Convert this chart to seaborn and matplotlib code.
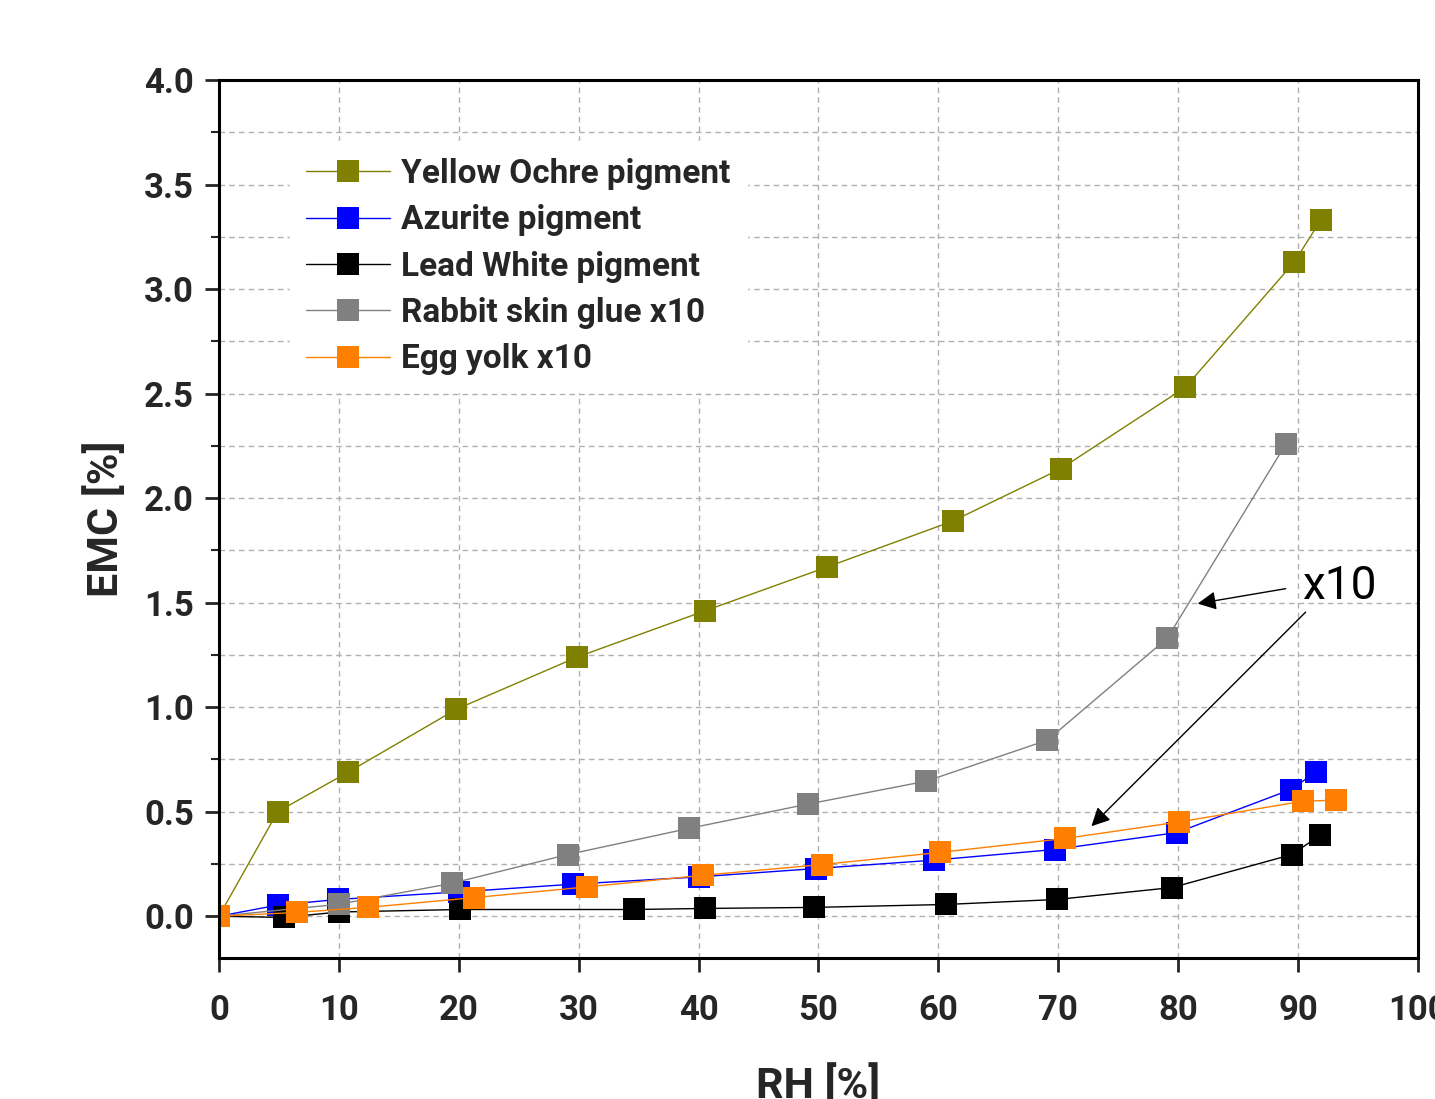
import matplotlib
matplotlib.use("Agg")
import matplotlib.pyplot as plt
import seaborn as sns
import numpy as np
from matplotlib.ticker import MultipleLocator, FormatStrFormatter

# ---- data ----
ochre_rh = [0, 4.9, 10.8, 19.8, 29.9, 40.5, 50.7, 61.2, 70.2, 80.6, 89.7, 91.9]
ochre_emc = [0, 0.50, 0.69, 0.99, 1.24, 1.46, 1.67, 1.89, 2.14, 2.53, 3.13, 3.33]

azurite_rh = [0, 4.9, 9.9, 20.0, 29.5, 40.0, 49.8, 59.6, 69.7, 79.9, 89.4, 91.5]
azurite_emc = [0, 0.053, 0.08, 0.116, 0.153, 0.188, 0.228, 0.268, 0.319, 0.40, 0.606, 0.69]

lead_rh = [0, 5.4, 10.0, 20.1, 34.6, 40.5, 49.6, 60.6, 69.9, 79.5, 89.5, 91.8]
lead_emc = [0, -0.006, 0.02, 0.032, 0.032, 0.037, 0.042, 0.056, 0.08, 0.137, 0.295, 0.386]

glue_rh = [0, 10.0, 19.4, 29.1, 39.2, 49.1, 59.0, 69.1, 79.1, 89.0]
glue_emc = [0, 0.057, 0.157, 0.295, 0.42, 0.536, 0.646, 0.842, 1.33, 2.26]

egg_rh = [0, 6.5, 12.4, 21.3, 30.7, 40.4, 50.3, 60.1, 70.6, 80.1, 90.4, 93.2]
egg_emc = [0, 0.018, 0.042, 0.089, 0.14, 0.196, 0.247, 0.305, 0.372, 0.451, 0.55, 0.555]

series = [
    ("Yellow Ochre pigment", ochre_rh, ochre_emc, "#808000"),
    ("Azurite pigment", azurite_rh, azurite_emc, "#0000FF"),
    ("Lead White pigment", lead_rh, lead_emc, "#000000"),
    ("Rabbit skin glue x10", glue_rh, glue_emc, "#808080"),
    ("Egg yolk x10", egg_rh, egg_emc, "#FF8000"),
]

sns.set_theme(style="ticks")
plt.rcParams['font.family'] = ['Roboto', 'DejaVu Sans']

fig = plt.figure(figsize=(14.35, 10.99), dpi=100)
ax = fig.add_axes([0.1526, 0.1283, 0.8355, 0.7989])

for name, xs, ys, col in series:
    sns.lineplot(x=xs, y=ys, ax=ax, color=col, marker="s", markersize=16,
                 markeredgewidth=0, linewidth=1, label=name, sort=False,
                 estimator=None)

ax.set_xlim(0, 100)
ax.set_ylim(-0.2, 4.0)
ax.xaxis.set_major_locator(MultipleLocator(10))
ax.yaxis.set_major_locator(MultipleLocator(0.5))
ax.yaxis.set_minor_locator(MultipleLocator(0.25))
ax.yaxis.set_major_formatter(FormatStrFormatter("%.1f"))

ax.grid(True, which="major", axis="both", linestyle=(0, (4, 3)), color="#b0b0b0", linewidth=1)
ax.grid(True, which="minor", axis="y", linestyle=(0, (4, 3)), color="#b0b0b0", linewidth=1)
ax.set_axisbelow(True)

for sp in ax.spines.values():
    sp.set_linewidth(2.2)
    sp.set_color("black")

ax.tick_params(axis="both", which="major", direction="out", length=10, width=2,
               labelsize=25)
ax.tick_params(axis="x", which="major", pad=16)
ax.tick_params(axis="y", which="major", pad=8)
ax.tick_params(axis="y", which="minor", direction="out", length=6, width=1.5)
for lab in ax.get_xticklabels() + ax.get_yticklabels():
    lab.set_fontweight("bold")

ax.set_xlabel("RH [%]", fontsize=31, fontweight="bold", labelpad=27)
ax.set_ylabel("EMC [%]", fontsize=31, fontweight="bold", labelpad=12)

leg = ax.legend(loc="upper left", bbox_to_anchor=(0.045, 0.949), fontsize=24,
                frameon=True, facecolor="white", edgecolor="white", framealpha=1,
                handlelength=2.5, handletextpad=0.35, labelspacing=0.43,
                borderpad=0.5, fancybox=False)
for t in leg.get_texts():
    t.set_fontweight("bold")

# annotation: x10 with arrows
ax.text(90.3, 1.58, "x10", fontsize=33, ha="left", va="center", color="black")
ax.annotate("", xy=(81.4, 1.493), xytext=(89.2, 1.569),
            arrowprops=dict(arrowstyle="-|>", color="black", lw=1, mutation_scale=28))
ax.annotate("", xy=(72.6, 0.421), xytext=(90.8, 1.464),
            arrowprops=dict(arrowstyle="-|>", color="black", lw=1, mutation_scale=28))

fig.savefig("out.png", dpi=100)
